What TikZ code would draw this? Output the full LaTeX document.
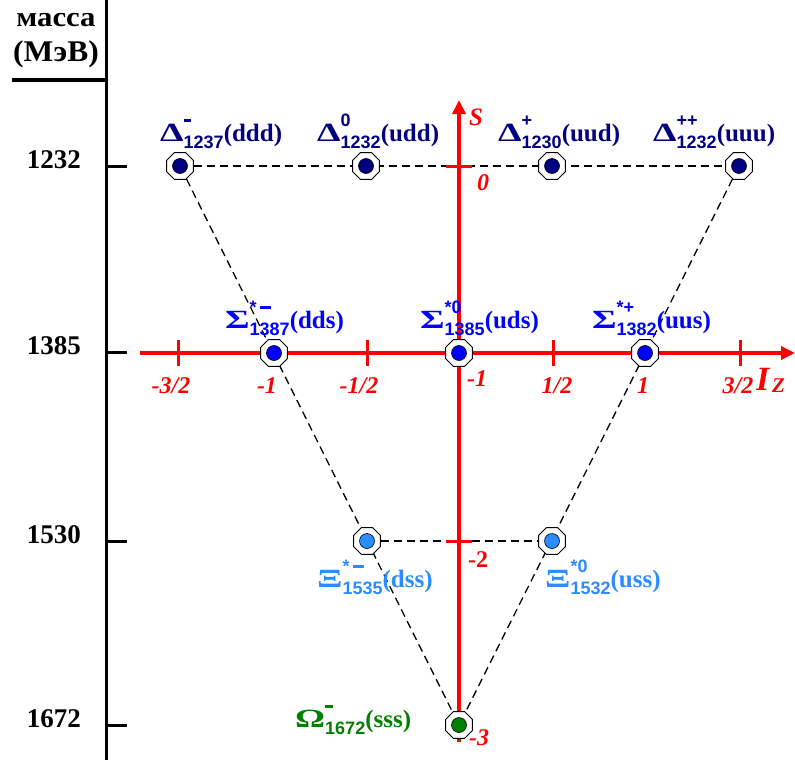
\documentclass[tikz,border=0pt]{standalone}
\usepackage{fontspec}
\usepackage{graphicx}
\setmainfont{Liberation Serif}
\newfontfamily\indexfont{Liberation Sans}
\usetikzlibrary{arrows.meta,backgrounds,shapes.geometric}
\definecolor{deltacolor}{HTML}{000080}
\definecolor{sigmacolor}{HTML}{0000FF}
\definecolor{xicolor}{HTML}{2B8CFF}
\definecolor{omegacolor}{HTML}{008000}
\definecolor{axiscolor}{HTML}{FF0000}
\tikzset{
  >=Latex,
  baryon/.style={
    regular polygon,
    regular polygon sides=8,
    draw=black,
    fill=white,
    line width=0.9pt,
    minimum size=29pt,
    inner sep=0pt,
    path picture={
      \fill[#1,draw=black,line width=0.6pt]
        (path picture bounding box.center) circle (7.5pt);
    }
  },
  multiplet/.style={
    draw=black,
    line width=1.3pt,
    dash pattern=on 8pt off 5pt
  },
  axis/.style={
    draw=axiscolor,
    line width=3.5pt,
    -{Triangle[length=14pt,width=13pt]}
  },
  tick/.style={
    draw=axiscolor,
    line width=3pt
  },
  mass line/.style={
    draw=black,
    line width=3pt
  },
  mass label/.style={
    font=\bfseries\fontsize{27}{29}\selectfont,
    text=black,
    anchor=base,
    inner sep=0pt
  },
  baryon label/.style={
    font=\bfseries\fontsize{25}{27}\selectfont,
    text=#1,
    anchor=base west,
    inner sep=0pt
  },
  axis label/.style={
    font=\bfseries\itshape\fontsize{24}{26}\selectfont,
    text=axiscolor,
    anchor=base,
    inner sep=0pt
  }
}
\newcommand{\supbar}[1]{\rule[4pt]{#1}{2.6pt}}
\newcommand{\baryonname}[4]{%
  \scalebox{1.5}[1.05]{#1}%
  \rlap{\raisebox{15pt}{\indexfont\fontsize{18}{18}\selectfont #2}}%
  \raisebox{-7pt}{\indexfont\fontsize{18}{18}\selectfont #3}(#4)%
}

\begin{document}
\begin{tikzpicture}[x=1pt,y=-1pt]
  \useasboundingbox (0,0) rectangle (795,760);

  % mass scale
  \coordinate (mass-top) at (106,0);
  \coordinate (mass-bottom) at (106,760);
  \draw[mass line] (mass-top) -- (mass-bottom);
  \draw[mass line] (12,80) -- (106,80);
  \foreach \y in {166,352,541,725}{
    \draw[mass line] (106,\y) -- (127,\y);
  }
  \node[mass label,font=\bfseries\fontsize{28}{30}\selectfont] (mass-title) at (56,27)
    {\scalebox{1.1}[1]{масса}};
  \node[mass label,font=\bfseries\fontsize{30}{32}\selectfont] (mass-unit) at (56,62)
    {\scalebox{1.05}[1]{(МэВ)}};
  \node[mass label] (m-1232) at (54,168) {1232};
  \node[mass label] (m-1385) at (54,354) {1385};
  \node[mass label] (m-1530) at (54,543) {1530};
  \node[mass label] (m-1672) at (54,727) {1672};

  % axes
  \coordinate (Iz-start) at (140,353);
  \coordinate (Iz-end) at (795,353);
  \coordinate (S-start) at (459,742);
  \coordinate (S-end) at (459,100);
  \draw[axis] (Iz-start) -- (Iz-end);
  \draw[axis] (S-start) -- (S-end);
  \foreach \x in {178,367,553,740}{
    \draw[tick] (\x,340) -- (\x,366);
  }
  \foreach \y in {166,541}{
    \draw[tick] (446,\y) -- (472,\y);
  }

  \node[axis label] (t-m32) at (171,393) {-3/2};
  \node[axis label] (t-m1) at (267,393) {-1};
  \node[axis label] (t-m12) at (359,393) {-1/2};
  \node[axis label] (t-p12) at (557,393) {1/2};
  \node[axis label] (t-p1) at (643,393) {1};
  \node[axis label] (t-p32) at (738,393) {3/2};
  \node[axis label] (s-0) at (483,190) {0};
  \node[axis label] (s-1) at (477,386) {-1};
  \node[axis label,font=\bfseries\fontsize{24}{26}\selectfont] (s-2) at (478,567) {-2};
  \node[axis label] (s-3) at (479,745) {-3};
  \node[axis label,font=\bfseries\itshape\fontsize{25}{27}\selectfont] (S-name) at (476,125) {S};
  \node[axis label,anchor=base west,font=\bfseries\itshape\fontsize{34}{36}\selectfont] (Iz-name) at (756,390) {I};
  \node[axis label,anchor=base west,font=\bfseries\itshape\fontsize{21}{23}\selectfont] (Iz-index) at (772,392) {Z};

  % decuplet
  \node[baryon=deltacolor] (D-1) at (180,166) {};
  \node[baryon=deltacolor] (D-2) at (366,166) {};
  \node[baryon=deltacolor] (D-3) at (552,166) {};
  \node[baryon=deltacolor] (D-4) at (739,166) {};
  \node[baryon=sigmacolor] (S-1) at (274,353) {};
  \node[baryon=sigmacolor] (S-2) at (459,353) {};
  \node[baryon=sigmacolor] (S-3) at (645,353) {};
  \node[baryon=xicolor] (X-1) at (367,541) {};
  \node[baryon=xicolor] (X-2) at (552,541) {};
  \node[baryon=omegacolor] (O-1) at (459,725) {};

  \begin{scope}[on background layer]
    \draw[multiplet] (D-1) -- (D-4);
    \draw[multiplet] (D-1) -- (O-1);
    \draw[multiplet] (D-4) -- (O-1);
    \draw[multiplet] (X-1) -- (X-2);
  \end{scope}

  \node[baryon label=deltacolor] (D-1-name) at (160,141) {\baryonname{Δ}{\supbar{7pt}}{1237}{ddd}};
  \node[baryon label=deltacolor] (D-2-name) at (317,141) {\baryonname{Δ}{0}{1232}{udd}};
  \node[baryon label=deltacolor] (D-3-name) at (498,141) {\baryonname{Δ}{+}{1230}{uud}};
  \node[baryon label=deltacolor] (D-4-name) at (653,141) {\baryonname{Δ}{++}{1232}{uuu}};
  \node[baryon label=sigmacolor] (S-1-name) at (225,328) {\baryonname{Σ}{*\,\supbar{11pt}}{1387}{dds}};
  \node[baryon label=sigmacolor] (S-2-name) at (420,328) {\baryonname{Σ}{*0}{1385}{uds}};
  \node[baryon label=sigmacolor] (S-3-name) at (592,328) {\baryonname{Σ}{*+}{1382}{uus}};
  \node[baryon label=xicolor] (X-1-name) at (317,587) {\baryonname{Ξ}{*\,\supbar{11pt}}{1535}{dss}};
  \node[baryon label=xicolor] (X-2-name) at (545,587) {\baryonname{Ξ}{*0}{1532}{uss}};
  \node[baryon label=omegacolor] (O-1-name) at (295,727) {\baryonname{Ω}{\supbar{8pt}}{1672}{sss}};
\end{tikzpicture}
\end{document}
